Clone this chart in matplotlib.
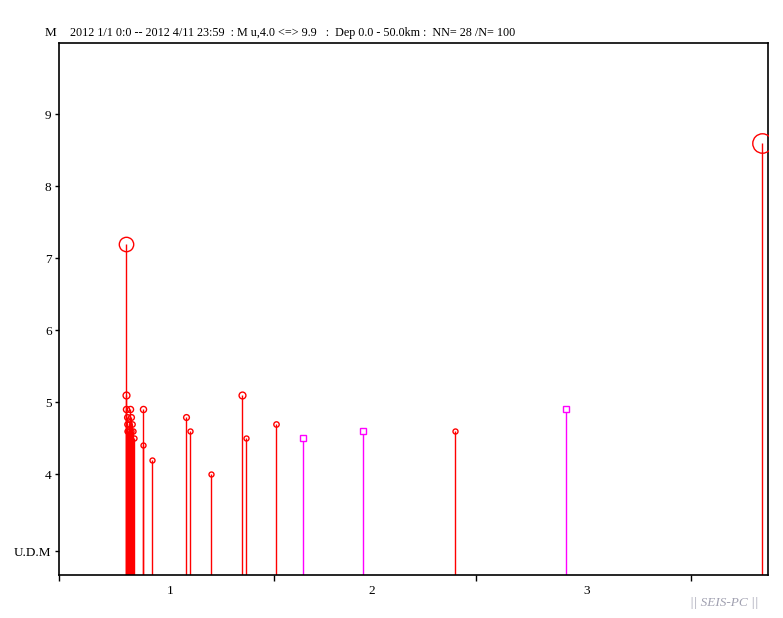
import matplotlib
matplotlib.use("Agg")
import matplotlib.pyplot as plt
import numpy as np

# Event data: day since 2012-01-01 00:00, magnitude, depth class (0 shallow/red, 1 deeper/magenta)
days = [9.76, 9.76,
        9.78, 9.82, 9.86, 9.90, 10.00, 10.15, 10.29, 10.40, 10.50, 10.58, 10.65, 10.82,
        12.20, 12.20, 13.38, 18.35, 18.88, 22.00, 26.45, 26.94, 31.30,
        35.22, 43.80, 57.10, 73.06, 101.27]
mags = [7.2, 5.1,
        4.9, 4.8, 4.7, 4.6, 4.6, 4.7, 4.9, 4.8, 4.6, 4.7, 4.6, 4.5,
        4.9, 4.4, 4.2, 4.8, 4.6, 4.0, 5.1, 4.5, 4.7,
        4.5, 4.6, 4.6, 4.9, 8.6]
depth_class = [0, 0,
               0, 0, 0, 0, 0, 0, 0, 0, 0, 0, 0, 0,
               0, 0, 0, 0, 0, 0, 0, 0, 0,
               1, 1, 0, 1, 0]

month_bounds = [0, 31, 60, 91]
month_label_pos = [16.1, 45.0, 76.0]
month_labels = ["1", "2", "3"]
y_ticks = [4, 5, 6, 7, 8, 9]
udm_level = 2.93
title_text = "2012 1/1 0:0 -- 2012 4/11 23:59  : M u,4.0 <=> 9.9   :  Dep 0.0 - 50.0km :  NN= 28 /N= 100"

plt.rcParams['font.family'] = ['Liberation Serif', 'DejaVu Serif']

fig = plt.figure(figsize=(7.83, 6.18), dpi=100)
ax = fig.add_axes([58.5 / 783, 43 / 618, 709 / 783, 532.5 / 618])
ax.set_xlim(0, 102)
ax.set_ylim(2.6, 10.0)

colors = {0: '#ff0000', 1: '#ff00ff'}
ymin = 2.6
for d, m, c in zip(days, mags, depth_class):
    col = colors[c]
    ax.plot([d, d], [ymin, m], color=col, lw=1.0, solid_capstyle='butt', zorder=2)
for d, m, c in zip(days, mags, depth_class):
    col = colors[c]
    if c == 0:
        dpx = max(5.0, 3.6 * (m - 3.2))
        ax.plot(d, m, marker='o', ms=dpx * 0.72, mfc='none', mec=col, mew=1.0, zorder=3)
    else:
        ax.plot(d, m, marker='s', ms=3.8, mfc='white', mec=col, mew=1.0, zorder=3)

for s in ax.spines.values():
    s.set_linewidth(1.2)
    s.set_color('black')

ax.set_xticks(month_bounds)
ax.set_xticklabels([''] * len(month_bounds))
ax.set_xticks(month_label_pos, minor=True)
ax.set_xticklabels(month_labels, minor=True)
ax.tick_params(axis='x', which='major', direction='out', length=4, width=1)
ax.tick_params(axis='x', which='minor', length=0, pad=7, labelsize=9.5)

ax.set_yticks(y_ticks + [udm_level])
ax.set_yticklabels([str(v) for v in y_ticks] + ['U.D.M'])
ax.tick_params(axis='y', direction='out', length=3, width=1, pad=2, labelsize=9.5)

fig.text(45 / 783, 1 - 33 / 618, "M", fontsize=9.5, va='center', ha='left')
fig.text(70.5 / 783, 1 - 33 / 618, title_text, fontsize=8.7, va='center', ha='left')
fig.text(724 / 783, 1 - 603 / 618, "|| SEIS-PC ||", fontsize=9.5, style='italic',
         color='#a0a0b0', va='center', ha='center')

fig.savefig("out.png", dpi=100)
